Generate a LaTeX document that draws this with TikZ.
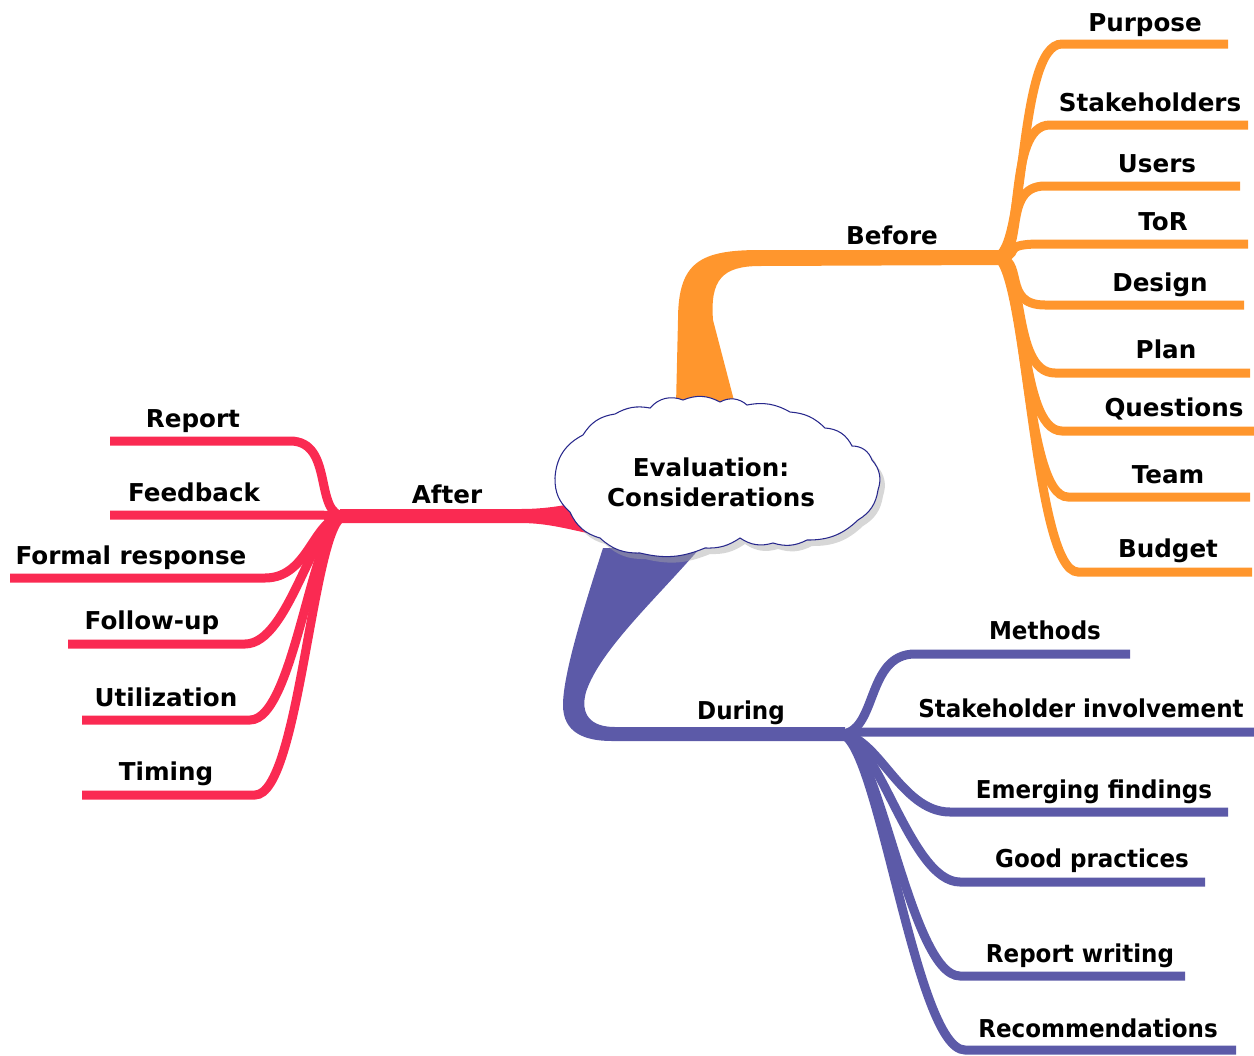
\documentclass[tikz,border=0pt]{standalone}
\usepackage{fontspec}
\setmainfont{DejaVu Sans}
\newfontfamily\condlab[FakeStretch=0.935]{DejaVu Sans}
\usetikzlibrary{calc}
\definecolor{orng}{RGB}{255,150,45}
\definecolor{rd}{RGB}{250,42,82}
\definecolor{bl}{RGB}{92,90,168}
\definecolor{cloudline}{RGB}{40,40,140}
\tikzset{
  lbl/.style={font=\fontsize{14}{16}\selectfont\bfseries, anchor=base, inner sep=0pt},
  clbl/.style={font=\condlab\fontsize{14}{16}\selectfont\bfseries, anchor=base, inner sep=0pt},
  oleaf/.style={draw=orng, line width=0.18cm},
  rleaf/.style={draw=rd, line width=0.18cm},
  bleaf/.style={draw=bl, line width=0.18cm},
}
\def\cloudpath{(555,-478) to[bend left=30] (583,-435) to[bend left=25] (615,-414) to[bend left=20] (650,-408) to[bend left=35] (683,-400) to[bend left=25] (720,-402) to[bend left=35] (747,-405) to[bend left=20] (790,-412) to[bend left=20] (825,-428) to[bend left=30] (852,-446) to[bend left=35] (872,-460) to[bend left=30] (878,-490) to[bend left=25] (858,-520) to[bend left=22] (807,-540) to[bend left=22] (773,-543) to[bend left=25] (740,-538) to[bend left=18] (705,-548) to[bend left=18] (640,-553) to[bend left=22] (600,-538) to[bend left=25] (570,-512) to[bend left=25] (555,-478) -- cycle}
\begin{document}
\begin{tikzpicture}[x=0.02cm,y=0.02cm]
\useasboundingbox (0,0) rectangle (1254,-1055);
% junctions
\coordinate (jo) at (995,-257);
\coordinate (jr) at (345,-516);
\coordinate (jb) at (840,-734);
% main branches
\fill[orng] (676,-405) -- (678,-320) .. controls (678,-262) and (700,-250) .. (760,-250) -- (1000,-250) -- (1000,-265) -- (760,-266) .. controls (722,-266) and (710,-280) .. (713,-320) -- (737,-412) -- cycle;
\fill[rd] (340,-509) -- (520,-509) .. controls (555,-509) and (570,-503) .. (598,-500) -- (602,-536) .. controls (570,-530) and (550,-523) .. (520,-523) -- (340,-523) -- cycle;
\fill[bl] (603,-548) .. controls (583,-610) and (563,-675) .. (563,-705) .. controls (563,-733) and (585,-741) .. (612,-741) -- (845,-741) -- (845,-727) -- (615,-727) .. controls (590,-727) and (580,-714) .. (586,-692) .. controls (600,-650) and (655,-600) .. (700,-548) -- cycle;
% orange leaves
\foreach \n/\y/\s/\e in {purpose/44/1062/1228, stake/125/1050/1248, users/186/1045/1240, tor/244/1040/1248, design/305/1045/1244, plan/373/1055/1250, quest/431/1062/1254, team/497/1068/1250, budget/572/1078/1252}{
  \coordinate (\n-s) at (\s,-\y);
  \coordinate (\n-e) at (\e,-\y);
  \draw[oleaf] (jo) .. controls +(32,0) and +(-45,0) .. (\n-s) -- (\n-e);
}
% red leaves
\foreach \n/\y/\s/\e in {report/441/290/110, feed/515/300/110, formal/578/265/10, follow/644/245/68, util/720/250/82, timing/795/255/82}{
  \coordinate (\n-s) at (\s,-\y);
  \coordinate (\n-e) at (\e,-\y);
  \draw[rleaf] (jr) .. controls +(-32,0) and +(45,0) .. (\n-s) -- (\n-e);
}
% blue leaves
\foreach \n/\y/\s/\e in {methods/654/915/1130, involve/732/880/1254, emerg/812/950/1228, good/882/960/1205, rwrite/976/960/1185, recom/1050/965/1236}{
  \coordinate (\n-s) at (\s,-\y);
  \coordinate (\n-e) at (\e,-\y);
  \draw[bleaf] (jb) .. controls +(38,0) and +(-50,0) .. (\n-s) -- (\n-e);
}
% cloud
\fill[black!35, opacity=0.45, shift={(5,-6)}] \cloudpath;
\filldraw[fill=white, draw=cloudline, line width=0.6pt] \cloudpath;
\node[lbl, align=center, anchor=center] (center) at (711,-482) {Evaluation:\\[1pt]Considerations};
% branch labels
\node[lbl] (before) at (892,-244) {Before};
\node[lbl] (after) at (447,-503) {After};
\node[clbl] (during) at (741,-719) {During};
% orange labels
\node[lbl] (purpose) at (1145,-31) {Purpose};
\node[lbl] (stake) at (1150,-111) {Stakeholders};
\node[lbl] (users) at (1157,-172) {Users};
\node[lbl] (tor) at (1163,-230) {ToR};
\node[lbl] (design) at (1160,-291) {Design};
\node[lbl] (plan) at (1166,-358) {Plan};
\node[lbl] (quest) at (1174,-416) {Questions};
\node[lbl] (team) at (1168,-483) {Team};
\node[lbl] (budget) at (1168,-557) {Budget};
% red labels
\node[lbl] (report) at (193,-427) {Report};
\node[lbl] (feed) at (194,-501) {Feedback};
\node[lbl] (formal) at (131,-564) {Formal response};
\node[lbl] (follow) at (152,-629) {Follow-up};
\node[lbl] (util) at (166,-706) {Utilization};
\node[lbl] (timing) at (166,-780) {Timing};
% blue labels
\node[clbl] (methods) at (1045,-639) {Methods};
\node[clbl] (involve) at (1081,-717) {Stakeholder involvement};
\node[clbl] (emerg) at (1094,-798) {Emerging findings};
\node[clbl] (good) at (1092,-867) {Good practices};
\node[clbl] (rwrite) at (1080,-962) {Report writing};
\node[clbl] (recom) at (1098,-1037) {Recommendations};
\end{tikzpicture}
\end{document}
